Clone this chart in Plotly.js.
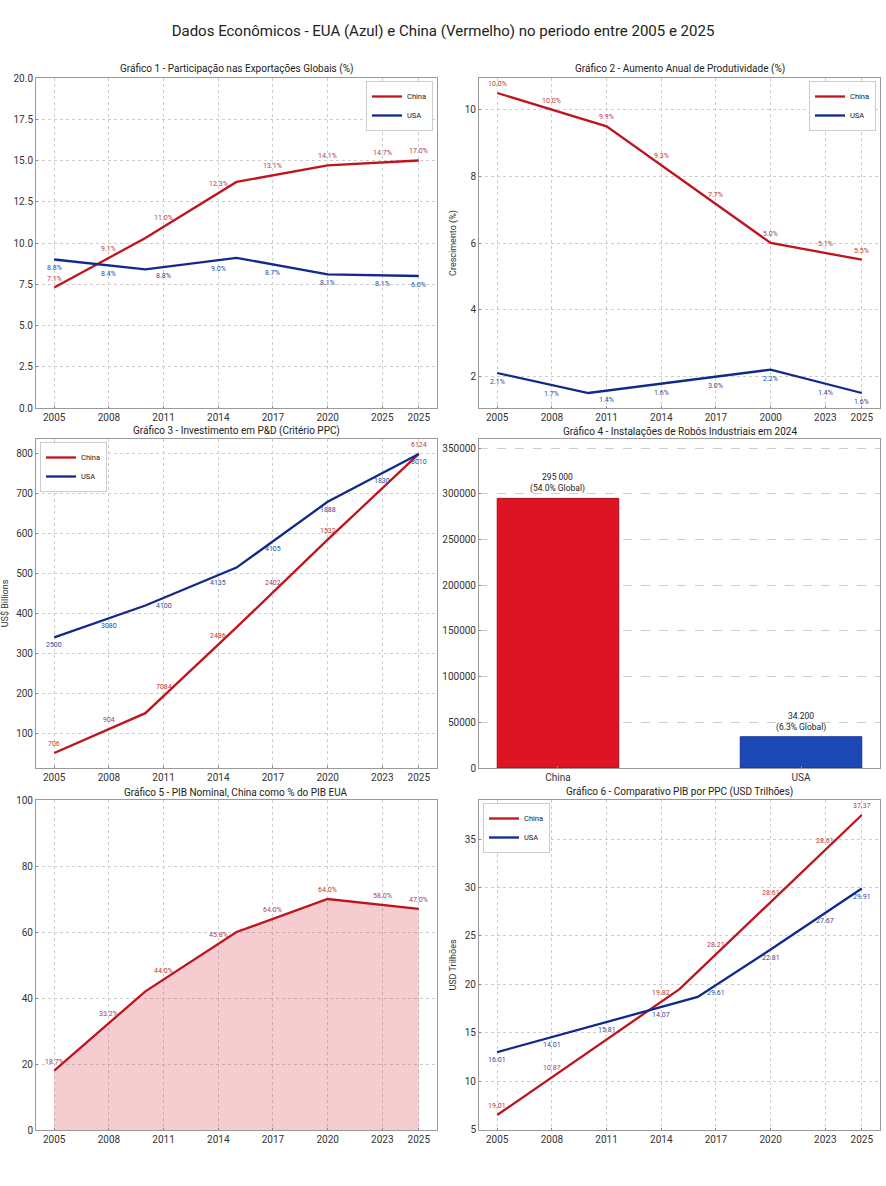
<!DOCTYPE html>
<html><head><meta charset="utf-8">
<script src="https://cdn.plot.ly/plotly-3.0.1.min.js"></script>
<style>html,body{margin:0;padding:0;background:#fff}#chart{width:886px;height:1186px}</style>
</head><body><div id="chart"></div>
<script>
// ---------- DATA ----------
const tickYears = [2005, 2008, 2011, 2014, 2017, 2020, 2023, 2025];
const years5 = [2005, 2010, 2015, 2020, 2025];

// Gráfico 1
const g1TickText = ['2005','2008','2011','2014','2017','2020','2025','2025'];
const g1China = [7.3, 10.3, 13.7, 14.7, 15.0];
const g1USA = [9.0, 8.4, 9.1, 8.1, 8.0];
const g1ChinaLabels = ['7.1%','9.1%','11.0%','12.3%','13.1%','14.1%','14.7%','17.0%'];
const g1USALabels = ['8.8%','8.4%','8.8%','9.0%','8.7%','8.1%','8.1%','6.0%'];

// Gráfico 2
const g2TickText = ['2005','2008','2011','2014','2017','2000','2023','2025'];
const g2ChinaYears = [2005, 2011, 2020, 2025];
const g2China = [10.5, 9.5, 6.0, 5.5];
const g2USAYears = [2005, 2010, 2020, 2025];
const g2USA = [2.1, 1.5, 2.2, 1.5];
const g2ChinaLabels = ['10.0%','10.0%','9.9%','9.3%','7.7%','5.0%','5.1%','5.5%'];
const g2USALabels = ['2.1%','1.7%','1.4%','1.6%','3.0%','2.2%','1.4%','1.6%'];

// Gráfico 3
const g3TickText = ['2005','2008','2011','2014','2017','2020','2023','2025'];
const g3China = [50, 150, 365, 585, 800];
const g3USA = [340, 420, 515, 680, 800];
const g3ChinaLabels = ['706','904','7084','2486','2402','1532',null,'6124'];
const g3USALabels = ['2500','3080','4100','4135','4105','1888','1830','8010'];

// Gráfico 4
const g4Categories = ['China','USA'];
const g4Values = [295000, 34200];
const g4Labels = ['295 000<br>(54.0% Global)', '34.200<br>(6.3% Global)'];

// Gráfico 5
const g5TickText = ['2005','2008','2011','2014','2017','2020','2023','2025'];
const g5China = [18, 42, 60, 70, 67];
const g5Labels = ['18.7%','33.2%','44.0%','45.8%','64.0%','64.0%','58.0%','47.0%'];

// Gráfico 6
const g6TickText = ['2005','2008','2011','2014','2017','2020','2023','2025'];
const g6China = [6.5, 13.0, 19.5, 28.5, 37.5];
const g6USAYears = [2005, 2010, 2016, 2020, 2025];
const g6USA = [13.0, 15.6, 18.7, 23.6, 29.9];
const g6ChinaLabels = ['19.01','10.87',null,'19.82','28.21','28.61','28.61','37.37'];
const g6USALabels = ['16.01','14.01','15.81','14.07','29.61','22.81','27.67','29.91'];

// ---------- STYLE ----------
const RED = '#c0141c', BLUE = '#10298a';
const RED_LBL = '#b83a40', BLUE_LBL = '#2d4a9c';
const FONT = 'Roboto, "Open Sans", sans-serif';
const W = 886, H = 1186;
const px = v => v / W, py = v => 1 - v / H;

const dom = {
  L: [px(36), px(437)], R: [px(479), px(880)],
  r1: [py(408), py(78)], r2: [py(768), py(439)], r3: [py(1130), py(800)]
};

function interp(xs, ys, x) {
  for (let i = 0; i < xs.length - 1; i++) {
    if (x >= xs[i] && x <= xs[i + 1]) {
      const t = (x - xs[i]) / (xs[i + 1] - xs[i]);
      return ys[i] + t * (ys[i + 1] - ys[i]);
    }
  }
  return ys[ys.length - 1];
}
function labelAnns(n, xs, ys, labels, color, shift) {
  const out = [];
  tickYears.forEach((t, i) => {
    if (!labels[i]) return;
    out.push({xref: n === 1 ? 'x' : 'x' + n, yref: n === 1 ? 'y' : 'y' + n,
      x: t, y: interp(xs, ys, t), text: labels[i], showarrow: false,
      yshift: shift, font: {size: 7, color: color, family: FONT}});
  });
  return out;
}

function line(n, xs, ys, name, color, legend, show) {
  return {type: 'scatter', mode: 'lines', x: xs, y: ys, name: name,
    line: {color: color, width: 2.3}, xaxis: n === 1 ? 'x' : 'x' + n, yaxis: n === 1 ? 'y' : 'y' + n,
    legend: legend, showlegend: show, hoverinfo: 'skip'};
}

const traces = [
  line(1, years5, g1China, 'China', RED, 'legend', true),
  line(1, years5, g1USA, 'USA', BLUE, 'legend', true),
  line(2, g2ChinaYears, g2China, 'China', RED, 'legend2', true),
  line(2, g2USAYears, g2USA, 'USA', BLUE, 'legend2', true),
  line(3, years5, g3China, 'China', RED, 'legend3', true),
  line(3, years5, g3USA, 'USA', BLUE, 'legend3', true),
  {type: 'bar', x: g4Categories, y: g4Values, width: 0.5, xaxis: 'x4', yaxis: 'y4', showlegend: false,
   marker: {color: ['#dc1424', '#1c48b6'], line: {color: ['#a50d18', '#123592'], width: 1}}, hoverinfo: 'skip'},
  {type: 'scatter', mode: 'lines', x: years5, y: g5China, fill: 'tozeroy', fillcolor: 'rgba(214,40,60,0.24)',
   line: {color: RED, width: 2.3}, xaxis: 'x5', yaxis: 'y5', showlegend: false, hoverinfo: 'skip'},
  line(6, years5, g6China, 'China', RED, 'legend4', true),
  line(6, g6USAYears, g6USA, 'USA', BLUE, 'legend4', true)
];

const axBase = {showline: true, mirror: true, linecolor: '#9a9a9a', linewidth: 1,
  ticks: 'inside', ticklen: 2, tickcolor: '#888',
  tickfont: {size: 10, color: '#333', family: FONT},
  showgrid: true, gridcolor: '#cdcdcd', griddash: 'dot', gridwidth: 1, zeroline: false};

function xYear(domain, anchor, ticktext) {
  return Object.assign({}, axBase, {domain: domain, anchor: anchor, range: [2004, 2026],
    tickmode: 'array', tickvals: tickYears, ticktext: ticktext});
}
function yAx(domain, anchor, range, dtick, extra) {
  return Object.assign({}, axBase, {domain: domain, anchor: anchor, range: range, dtick: dtick}, extra || {});
}

const ytitle = t => ({text: t, font: {size: 9, color: '#333', family: FONT}, standoff: 6});

const legBase = {bgcolor: 'rgba(255,255,255,0.92)', bordercolor: '#cccccc', borderwidth: 1,
  font: {size: 7.5, color: '#222', family: FONT}, itemwidth: 30, tracegroupgap: 0, traceorder: 'normal'};

function subTitle(text, dx, ytop) {
  return {xref: 'paper', yref: 'paper', x: (dx[0] + dx[1]) / 2, y: py(ytop), yanchor: 'bottom',
    xanchor: 'center', text: text, showarrow: false, font: {size: 10, color: '#222', family: FONT}};
}

let annotations = [
  subTitle('Gráfico 1 - Participação nas Exportações Globais (%)', dom.L, 77),
  subTitle('Gráfico 2 - Aumento Anual de Produtividade (%)', dom.R, 77),
  subTitle('Gráfico 3 - Investimento em P&D (Critério PPC)', dom.L, 439),
  subTitle('Gráfico 4 - Instalações de Robôs Industriais em 2024', dom.R, 439),
  subTitle('Gráfico 5 - PIB Nominal, China como % do PIB EUA', dom.L, 800),
  subTitle('Gráfico 6 - Comparativo PIB por PPC (USD Trilhões)', dom.R, 800)
];
annotations = annotations.concat(
  labelAnns(1, years5, g1China, g1ChinaLabels, RED_LBL, 9),
  labelAnns(1, years5, g1USA, g1USALabels, BLUE_LBL, -9),
  labelAnns(2, g2ChinaYears, g2China, g2ChinaLabels, RED_LBL, 9),
  labelAnns(2, g2USAYears, g2USA, g2USALabels, BLUE_LBL, -9),
  labelAnns(3, years5, g3China, g3ChinaLabels, RED_LBL, 9),
  labelAnns(3, years5, g3USA, g3USALabels, BLUE_LBL, -8),
  labelAnns(5, years5, g5China, g5Labels, RED_LBL, 9),
  labelAnns(6, years5, g6China, g6ChinaLabels, RED_LBL, 9),
  labelAnns(6, g6USAYears, g6USA, g6USALabels, BLUE_LBL, -8)
);
g4Categories.forEach((c, i) => {
  annotations.push({xref: 'x4', yref: 'y4', x: c, y: g4Values[i], yanchor: 'bottom', yshift: 2,
    text: g4Labels[i], showarrow: false, font: {size: 8.5, color: '#222', family: FONT}});
});

const layout = {
  width: W, height: H, margin: {l: 0, r: 0, t: 0, b: 0},
  paper_bgcolor: '#ffffff', plot_bgcolor: '#ffffff',
  font: {family: FONT, color: '#222'},
  title: {text: 'Dados Econômicos - EUA (Azul) e China (Vermelho) no periodo entre 2005 e 2025',
    x: 0.5, xanchor: 'center', y: py(31), yanchor: 'middle', yref: 'paper',
    font: {size: 15, color: '#222', family: FONT}},
  xaxis: xYear(dom.L, 'y', g1TickText),
  yaxis: yAx(dom.r1, 'x', [0, 20], 2.5, {tickformat: '.1f'}),
  xaxis2: xYear(dom.R, 'y2', g2TickText),
  yaxis2: yAx(dom.r1, 'x2', [1.05, 10.95], 2, {title: ytitle('Crescimento (%)')}),
  xaxis3: xYear(dom.L, 'y3', g3TickText),
  yaxis3: yAx(dom.r2, 'x3', [12.5, 837.5], 100, {title: ytitle('US$ Billions')}),
  xaxis4: Object.assign({}, axBase, {domain: dom.R, anchor: 'y4', type: 'category', range: [-0.325, 1.325], showgrid: false}),
  yaxis4: yAx(dom.r2, 'x4', [0, 360000], 50000, {tickformat: 'd', griddash: 'dash'}),
  xaxis5: xYear(dom.L, 'y5', g5TickText),
  yaxis5: yAx(dom.r3, 'x5', [0, 100], 20),
  xaxis6: xYear(dom.R, 'y6', g6TickText),
  yaxis6: yAx(dom.r3, 'x6', [4.95, 39.05], 5, {title: ytitle('USD Trilhões')}),
  legend: Object.assign({}, legBase, {x: px(433), xanchor: 'right', y: py(81), yanchor: 'top'}),
  legend2: Object.assign({}, legBase, {x: px(876), xanchor: 'right', y: py(81), yanchor: 'top'}),
  legend3: Object.assign({}, legBase, {x: px(40), xanchor: 'left', y: py(442), yanchor: 'top'}),
  legend4: Object.assign({}, legBase, {x: px(483), xanchor: 'left', y: py(803), yanchor: 'top'}),
  annotations: annotations
};

Plotly.newPlot('chart', traces, layout, {staticPlot: true, displayModeBar: false});
</script>
</body></html>
